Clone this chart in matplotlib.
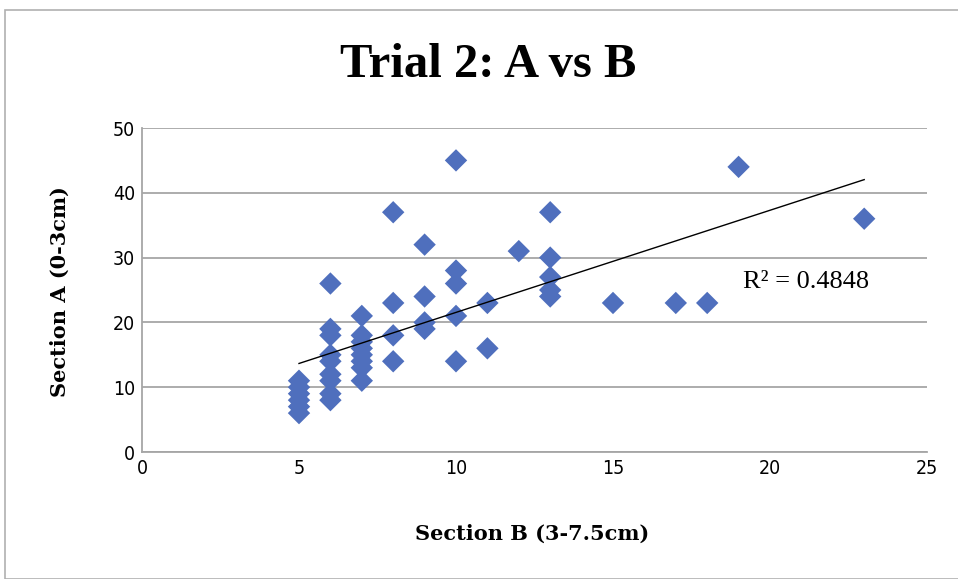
import numpy as np
import matplotlib.pyplot as plt
from matplotlib.patches import Rectangle

# Section B (x) vs Section A (y)
sec_b = [5, 5, 5, 5, 5, 5,
         6, 6, 6, 6, 6, 6, 6, 6, 6,
         7, 7, 7, 7, 7, 7, 7, 7,
         8, 8, 8, 8,
         9, 9, 9, 9,
         10, 10, 10, 10, 10,
         11, 11,
         12,
         13, 13, 13, 13, 13,
         15, 17, 18, 19, 23]
sec_a = [6, 7, 8, 9, 10, 11,
         8, 9, 11, 12, 14, 15, 18, 19, 26,
         11, 13, 14, 15, 16, 17, 18, 21,
         14, 18, 23, 37,
         19, 20, 24, 32,
         14, 21, 26, 28, 45,
         16, 23,
         31,
         24, 25, 27, 30, 37,
         23, 23, 23, 44, 36]
r2_text = "R² = 0.4848"

x = np.array(sec_b)
y = np.array(sec_a)
m, b = np.polyfit(x, y, 1)

fig = plt.figure(figsize=(9.58, 5.79), dpi=100)
ax = fig.add_axes([142 / 958, 1 - 452 / 579, (927 - 142) / 958, (452 - 128) / 579])

# chart frame
fig.patches.append(Rectangle((5 / 958, 0), 1, 1 - 10 / 579, transform=fig.transFigure,
                             fill=False, edgecolor="#b0b0b0", linewidth=1.2))

ax.scatter(x, y, marker="D", s=130, color="#4f6fbd", edgecolors="none", zorder=3)
xs = np.array([x.min(), x.max()])
ax.plot(xs, m * xs + b, color="black", linewidth=1, zorder=4)

ax.set_xlim(0, 25)
ax.set_ylim(0, 50)
ax.set_xticks(range(0, 26, 5))
ax.set_yticks(range(0, 51, 10))
ax.yaxis.grid(True, color="#a6a6a6", linewidth=1.3)
ax.set_axisbelow(True)
for s in ["top", "right"]:
    ax.spines[s].set_visible(False)
for s in ["left", "bottom"]:
    ax.spines[s].set_color("#a6a6a6")
    ax.spines[s].set_linewidth(1.3)
ax.tick_params(axis="x", length=0, pad=5, labelsize=14)
ax.tick_params(axis="y", length=0, pad=5, labelsize=14)
for lab in ax.get_xticklabels() + ax.get_yticklabels():
    lab.set_fontfamily("DejaVu Sans")
    lab.set_fontstretch("condensed")

ax.text(19.15, 26.2, r2_text, fontsize=19, family="Liberation Serif", va="center")

fig.text(488 / 958, 1 - 65 / 579, "Trial 2: A vs B", ha="center", va="center",
         fontsize=35, family="Liberation Serif", fontweight="bold")
fig.text(532 / 958, 1 - 534 / 579, "Section B (3-7.5cm)", ha="center", va="center",
         fontsize=15, family="DejaVu Serif", fontweight="bold")
fig.text(60 / 958, 1 - 292 / 579, "Section A (0-3cm)", ha="center", va="center",
         rotation=90, fontsize=15, family="DejaVu Serif", fontweight="bold")

fig.savefig("out.png", dpi=100)
